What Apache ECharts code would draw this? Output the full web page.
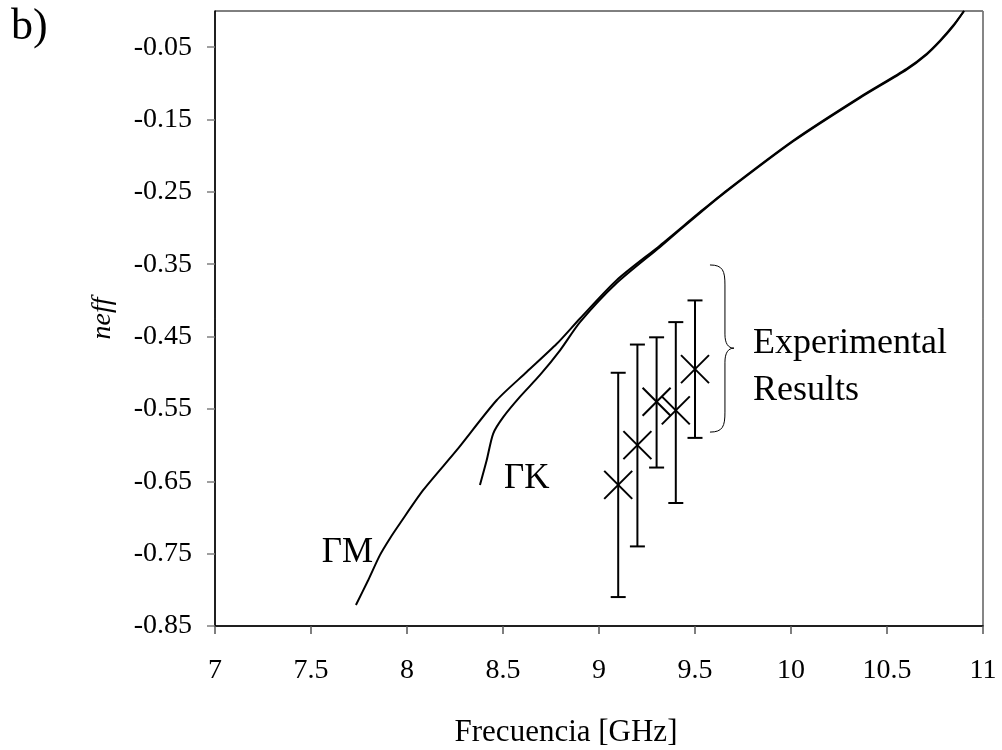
<!DOCTYPE html>
<html>
<head>
    <meta charset="utf-8">
    <style>
        html, body { margin: 0; padding: 0; background: #fff; }
        #main { width: 1002px; height: 750px; }
    </style>
    <script src="https://cdn.jsdelivr.net/npm/echarts@6/dist/echarts.min.js"></script>
</head>
<body>
    <div id="main"></div>
    <script type="text/javascript">
        // ΓM branch
        var gmData = [
            [7.734, -0.821], [7.799, -0.786], [7.859, -0.752], [7.911, -0.729], [7.964, -0.708],
            [8.085, -0.662], [8.259, -0.607], [8.467, -0.538], [8.623, -0.499], [8.780, -0.460],
            [8.901, -0.425], [9.092, -0.372], [9.318, -0.324], [9.526, -0.278], [9.665, -0.248],
            [10.012, -0.179], [10.359, -0.119], [10.602, -0.080], [10.707, -0.059], [10.776, -0.041],
            [10.845, -0.020], [10.901, 0.000]
        ];
        // ΓK branch
        var gkData = [
            [8.380, -0.655], [8.415, -0.621], [8.449, -0.584], [8.502, -0.561], [8.589, -0.533],
            [8.693, -0.503], [8.797, -0.469], [8.901, -0.430], [9.092, -0.376], [9.318, -0.326],
            [9.526, -0.279], [9.665, -0.249], [10.012, -0.180], [10.359, -0.120], [10.602, -0.081],
            [10.707, -0.060], [10.776, -0.042], [10.845, -0.021], [10.901, 0.000]
        ];
        // experimental results: frequency, value, lower, upper
        var expFreq = [9.1, 9.2, 9.3, 9.4, 9.5];
        var expValue = [-0.655, -0.600, -0.540, -0.552, -0.495];
        var expLow = [-0.810, -0.740, -0.631, -0.680, -0.590];
        var expHigh = [-0.500, -0.461, -0.451, -0.430, -0.400];

        var yTicks = [-0.85, -0.75, -0.65, -0.55, -0.45, -0.35, -0.25, -0.15, -0.05];

        var serif = "'Liberation Serif', 'DejaVu Serif', serif";

        var expData = expFreq.map(function (f, i) {
            return [f, expValue[i], expLow[i], expHigh[i]];
        });

        var myChart = echarts.init(document.getElementById('main'));

        function renderErr(params, api) {
            var x = api.value(0);
            var c = api.coord([x, api.value(1)]);
            var lo = api.coord([x, api.value(2)]);
            var hi = api.coord([x, api.value(3)]);
            var cap = 7.5, s = 14;
            var st = { stroke: '#000', lineWidth: 2 };
            return {
                type: 'group',
                children: [
                    { type: 'line', shape: { x1: lo[0], y1: lo[1], x2: hi[0], y2: hi[1] }, style: st },
                    { type: 'line', shape: { x1: lo[0] - cap, y1: lo[1], x2: lo[0] + cap, y2: lo[1] }, style: st },
                    { type: 'line', shape: { x1: hi[0] - cap, y1: hi[1], x2: hi[0] + cap, y2: hi[1] }, style: st },
                    { type: 'line', shape: { x1: c[0] - s, y1: c[1] - s, x2: c[0] + s, y2: c[1] + s }, style: st },
                    { type: 'line', shape: { x1: c[0] - s, y1: c[1] + s, x2: c[0] + s, y2: c[1] - s }, style: st }
                ]
            };
        }

        var option = {
            backgroundColor: '#fff',
            animation: false,
            grid: {
                left: 215, right: 19, top: 11, bottom: 124,
                outerBoundsMode: 'none',
                show: true, borderColor: '#000', borderWidth: 1
            },
            xAxis: {
                type: 'value',
                min: 7, max: 11, interval: 0.5,
                name: 'Frecuencia [GHz]',
                nameLocation: 'middle',
                nameGap: 91,
                nameTextStyle: { fontFamily: serif, fontSize: 31, color: '#000', padding: [0, 66, 0, 0] },
                axisLine: { onZero: false, lineStyle: { color: '#000', width: 1.5 } },
                axisTick: { inside: false, length: 8, lineStyle: { color: '#555', width: 1.5 } },
                axisLabel: { fontFamily: serif, fontSize: 28, color: '#000', margin: 31 },
                splitLine: { show: false }
            },
            yAxis: {
                type: 'value',
                min: -0.85, max: 0, interval: 0.1,
                name: 'neff',
                nameLocation: 'middle',
                nameGap: 98,
                nameRotate: 90,
                nameTextStyle: { fontFamily: serif, fontSize: 28, fontStyle: 'italic', color: '#000' },
                axisLine: { onZero: false, lineStyle: { color: '#000', width: 1.5 } },
                axisTick: { inside: false, length: 8, customValues: yTicks, lineStyle: { color: '#808080', width: 1.5 } },
                axisLabel: {
                    fontFamily: serif, fontSize: 28, color: '#000', margin: 23,
                    customValues: yTicks,
                    formatter: function (v) { return v.toFixed(2); }
                },
                splitLine: { show: false }
            },
            series: [{
                name: 'ΓM',
                type: 'line',
                data: gmData,
                showSymbol: false,
                smooth: 0.25,
                lineStyle: { color: '#000', width: 2 }
            }, {
                name: 'ΓK',
                type: 'line',
                data: gkData,
                showSymbol: false,
                smooth: 0.25,
                lineStyle: { color: '#000', width: 2 }
            }, {
                name: 'Experimental Results',
                type: 'custom',
                renderItem: renderErr,
                data: expData,
                z: 5
            }]
        };

        myChart.setOption(option);

        // annotations placed in data coordinates
        function px(p) { return myChart.convertToPixel({ gridIndex: 0 }, p); }
        var bTop = px([9.578, -0.351]);
        var bMid = px([9.656, -0.466]);
        var bTip = px([9.703, -0.466]);
        var bBot = px([9.578, -0.582]);
        var xa = bTop[0], xm = bMid[0], xt = bTip[0];
        var yt = bTop[1], ym = bTip[1], yb = bBot[1];
        var bst = { stroke: '#000', lineWidth: 1, fill: 'none' };
        var brace = {
            type: 'group',
            children: [
                { type: 'bezierCurve', shape: { x1: xa, y1: yt, cpx1: xm - 2, cpy1: yt, cpx2: xm, cpy2: yt + 6, x2: xm, y2: yt + 20 }, style: bst },
                { type: 'line', shape: { x1: xm, y1: yt + 20, x2: xm, y2: ym - 14 }, style: bst },
                { type: 'bezierCurve', shape: { x1: xm, y1: ym - 14, cpx1: xm, cpy1: ym - 5, cpx2: xm + 3, cpy2: ym, x2: xt, y2: ym }, style: bst },
                { type: 'bezierCurve', shape: { x1: xt, y1: ym, cpx1: xm + 3, cpy1: ym, cpx2: xm, cpy2: ym + 5, x2: xm, y2: ym + 14 }, style: bst },
                { type: 'line', shape: { x1: xm, y1: ym + 14, x2: xm, y2: yb - 20 }, style: bst },
                { type: 'bezierCurve', shape: { x1: xm, y1: yb - 20, cpx1: xm, cpy1: yb - 6, cpx2: xm - 2, cpy2: yb, x2: xa, y2: yb }, style: bst }
            ]
        };

        var rTop = px([11, 0]);
        var rBot = px([11, -0.85]);

        function label(text, pos, size) {
            var p = px(pos);
            return {
                type: 'text', x: p[0], y: p[1],
                style: { text: text, fontFamily: serif, fontSize: size, fill: '#000', align: 'left', verticalAlign: 'middle' }
            };
        }

        myChart.setOption({
            graphic: [
                brace,
                { type: 'line', shape: { x1: rTop[0], y1: rTop[1], x2: rBot[0], y2: rBot[1] }, style: { stroke: '#888', lineWidth: 1.5 } },
                label('ΓM', [7.556, -0.749], 35),
                label('ΓK', [8.505, -0.646], 35),
                label('Experimental', [9.802, -0.459], 36),
                label('Results', [9.802, -0.524], 36),
                {
                    type: 'text', left: 11, top: 5,
                    style: { text: 'b)', fontFamily: serif, fontSize: 44, fill: '#000' }
                }
            ]
        });
    </script>
</body>
</html>
